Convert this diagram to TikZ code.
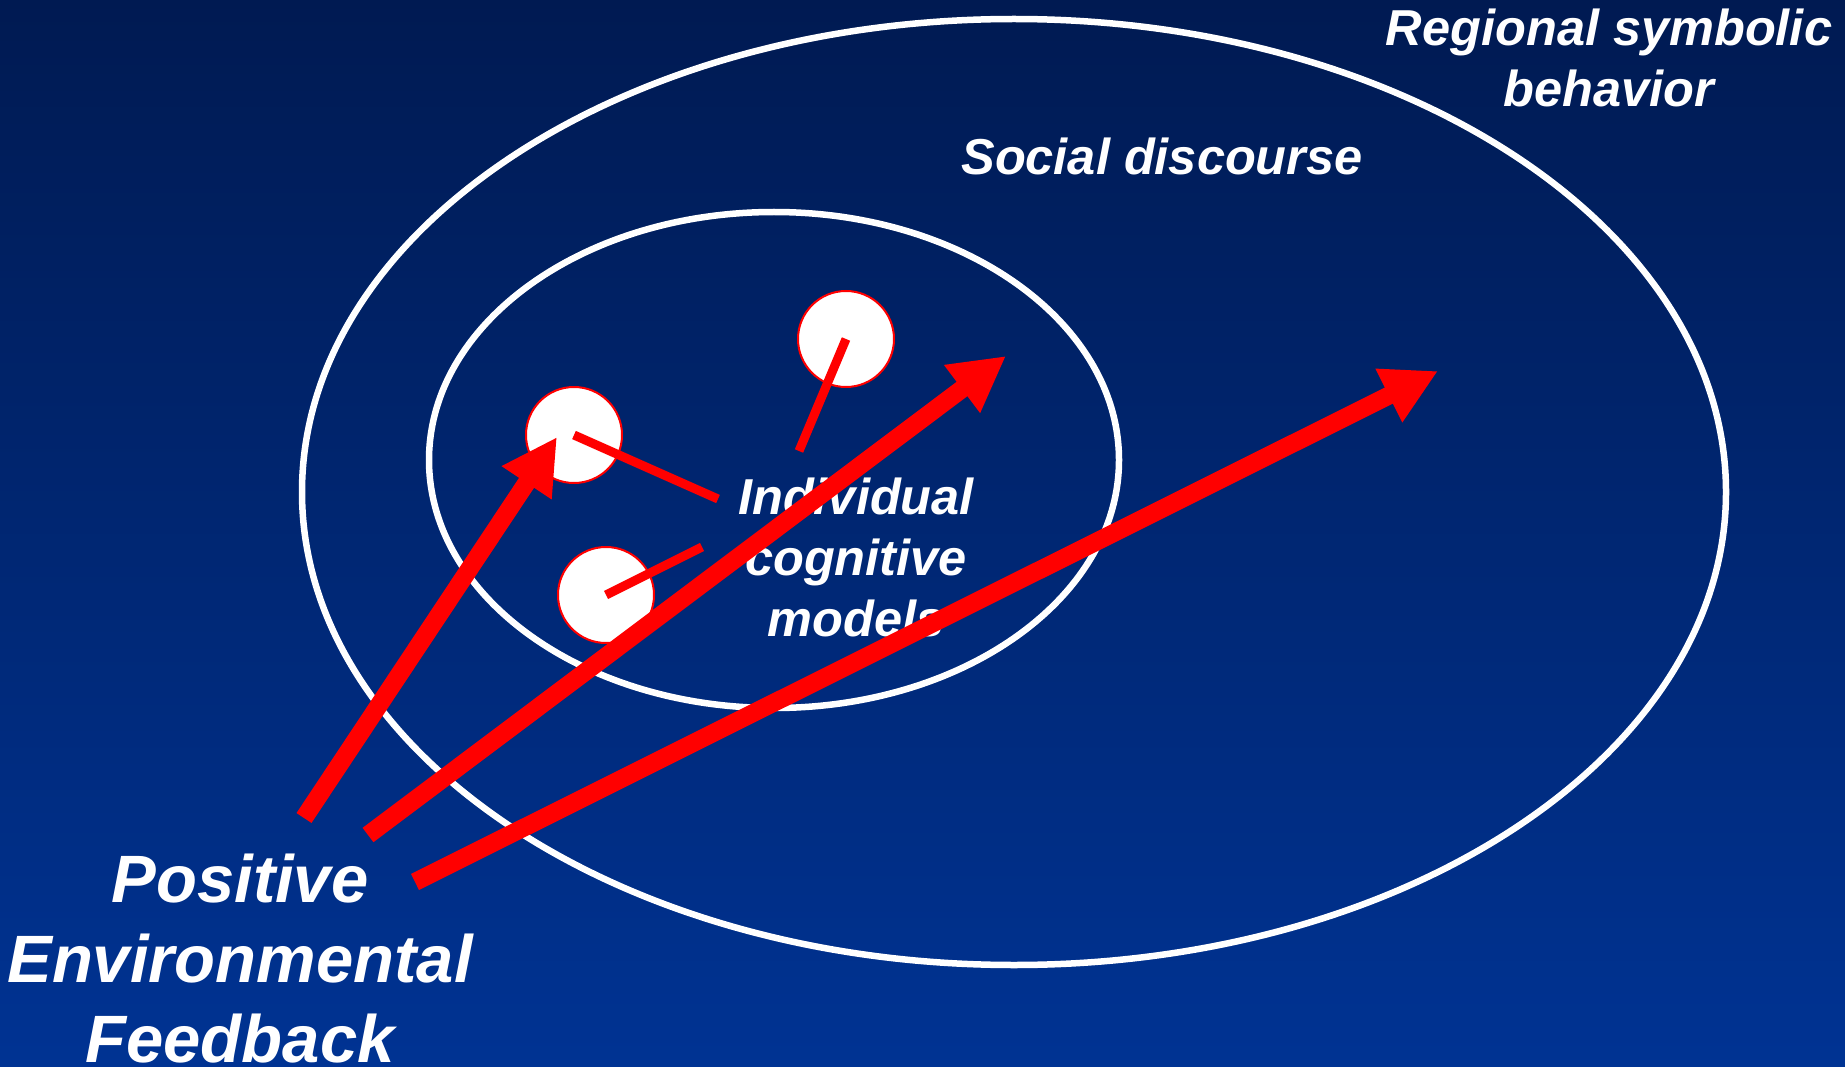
\documentclass[tikz,border=0pt]{standalone}
\usepackage{fontspec}
\setmainfont{Liberation Sans}
\usetikzlibrary{arrows.meta}

\definecolor{navytop}{HTML}{001A52}
\definecolor{navybot}{HTML}{003393}

\tikzset{
  ring/.style={draw=white, line width=6.5pt},
  cell/.style={circle, fill=white, draw=red, line width=2pt, minimum size=96pt, inner sep=0pt},
  link/.style={draw=red, line width=9pt},
  feed/.style={draw=red, line width=18pt, -{Triangle[length=55pt,width=56pt]}},
  lbl/.style={text=white, align=center, inner sep=0pt, anchor=base,
    font=\fontsize{50.5}{61}\selectfont\bfseries\itshape},
  biglbl/.style={lbl, font=\fontsize{67}{80}\selectfont\bfseries\itshape}
}

\begin{document}
\begin{tikzpicture}[x=1pt,y=-1pt]
    \useasboundingbox (0,0) rectangle (1845,1067);
    \shade[top color=navytop, bottom color=navybot] (0,0) rectangle (1845,1067);
    % regions
    \draw[ring] (1014,492) ellipse [x radius=712pt, y radius=473pt];
    \draw[ring] (774,460) ellipse [x radius=345pt, y radius=248pt];
    % labels (base = last line)
    \node[lbl] (regional) at (1609,107) {Regional symbolic\\behavior};
    \node[lbl] (social) at (1162,175) {Social discourse};
    \node[lbl] (individual) at (856,636) {Individual\\cognitive\\models};
    \node[biglbl] (feedback) at (240,1062) {Positive\\Environmental\\Feedback};
    % individuals
    \node[cell] (cellA) at (846,339) {};
    \node[cell] (cellB) at (574,435) {};
    \node[cell] (cellC) at (606,595) {};
    \coordinate (endA) at (799,451);
    \coordinate (endB) at (718,499);
    \coordinate (endC) at (702,547);
    \draw[link] (cellA.center) -- (endA);
    \draw[link] (cellB.center) -- (endB);
    \draw[link] (cellC.center) -- (endC);
    % feedback arrows
    \coordinate (tailA) at (304,818);
    \coordinate (tailB) at (368,835);
    \coordinate (tailC) at (415,882);
    \coordinate (tipA) at (557,437);
    \coordinate (tipB) at (1006,356);
    \coordinate (tipC) at (1438,371);
    \draw[feed] (tailA) -- (tipA);
    \draw[feed] (tailB) -- (tipB);
    \draw[feed] (tailC) -- (tipC);
\end{tikzpicture}
\end{document}
